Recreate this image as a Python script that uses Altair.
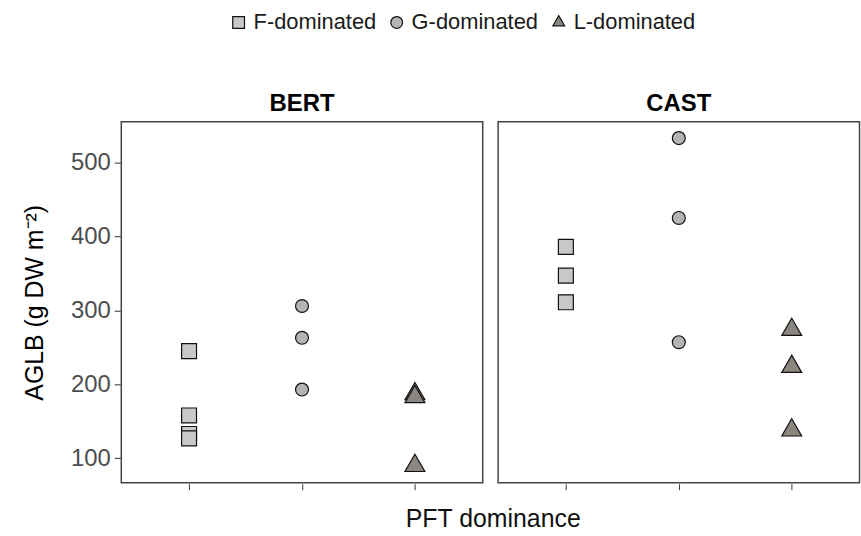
import altair as alt
import pandas as pd

# AGLB per site and dominance class
sites = ["BERT", "CAST"]
classes = ["F-dominated", "G-dominated", "L-dominated"]

bert_f = [245, 158, 133, 127]
bert_g = [306, 263, 193]
bert_l = [187, 183, 90]

cast_f = [386, 347, 311]
cast_g = [533, 425, 257]
cast_l = [274, 224, 138]

groups = [
    ("BERT", "F-dominated", bert_f),
    ("BERT", "G-dominated", bert_g),
    ("BERT", "L-dominated", bert_l),
    ("CAST", "F-dominated", cast_f),
    ("CAST", "G-dominated", cast_g),
    ("CAST", "L-dominated", cast_l),
]

FONT = "Liberation Sans"
# triangle with its centroid at the origin
TRIANGLE = "M0,-1.155L1,0.577L-1,0.577Z"

fills = ["#c8c8c8", "#b4b4b4", "#8c8680"]
outlines = ["#111111", "#111111", "#111111"]
shapes = ["square", "circle", TRIANGLE]
# symbol area per class
marker_area = {"F-dominated": 225, "G-dominated": 169, "L-dominated": 400}

rows = [
    {"site": s, "pft": c, "aglb": v, "area": marker_area[c]}
    for s, c, vals in groups
    for v in vals
]
df = pd.DataFrame(rows)

legend = alt.Legend(
    title=None,
    orient="none",
    legendX=107,
    legendY=-111,
    direction="horizontal",
    labelFontSize=22,
    labelColor="#1a1a1a",
    labelFont=FONT,
    symbolSize=140,
    symbolStrokeWidth=1.2,
    columnPadding=9,
    labelOffset=4,
)

points = (
    alt.Chart(df)
    .mark_point(filled=True, strokeWidth=1.2, opacity=1)
    .encode(
        x=alt.X(
            "pft:N",
            sort=classes,
            scale=alt.Scale(type="point", padding=0.6),
            axis=alt.Axis(
                labels=False,
                domain=False,
                ticks=True,
                tickSize=6,
                tickColor="#333333",
                tickWidth=1,
                title=None,
                grid=False,
            ),
        ),
        y=alt.Y(
            "aglb:Q",
            scale=alt.Scale(domain=[67, 555], nice=False, zero=False),
            axis=alt.Axis(
                values=[100, 200, 300, 400, 500],
                title="AGLB (g DW m⁻²)",
                titleFontSize=25,
                titleFontWeight="normal",
                titleColor="#000000",
                titlePadding=23,
                labelFontSize=24,
                labelColor="#4d4d4d",
                labelPadding=4,
                tickSize=6,
                tickColor="#333333",
                domain=False,
                grid=False,
            ),
        ),
        fill=alt.Fill(
            "pft:N",
            scale=alt.Scale(domain=classes, range=fills),
            legend=legend,
        ),
        stroke=alt.Stroke(
            "pft:N",
            scale=alt.Scale(domain=classes, range=outlines),
            legend=legend,
        ),
        shape=alt.Shape(
            "pft:N",
            scale=alt.Scale(domain=classes, range=shapes),
            legend=legend,
        ),
        size=alt.Size("area:Q", scale=None),
    )
    .properties(width=363.5, height=363)
)

chart = (
    points.facet(
        column=alt.Column(
            "site:N",
            sort=sites,
            header=alt.Header(
                title=None,
                labelFontSize=24,
                labelFontWeight="bold",
                labelColor="#000000",
                labelFont=FONT,
                labelPadding=5,
            ),
        ),
        spacing=13,
    )
    .properties(
        title=alt.TitleParams(
            "PFT dominance",
            orient="bottom",
            anchor="middle",
            fontSize=25,
            fontWeight="normal",
            color="#111111",
            font=FONT,
            offset=17,
            dx=52,
        ),
        padding={"left": 22, "top": 10, "right": 0, "bottom": 0},
    )
    .configure(font=FONT)
    .configure_view(stroke="#444444", strokeWidth=1.5)
)

chart.save("out.html", embed_options={"renderer": "svg", "actions": False})
